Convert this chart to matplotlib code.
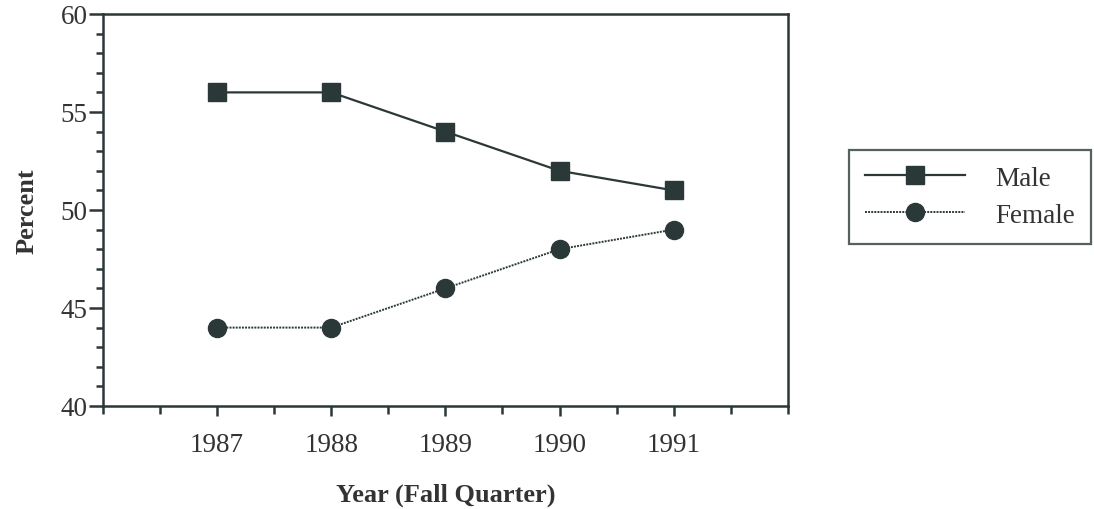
import matplotlib
matplotlib.use("Agg")
import matplotlib.pyplot as plt
from matplotlib.ticker import MultipleLocator

years = [1987, 1988, 1989, 1990, 1991]
male = [56, 56, 54, 52, 51]
female = [44, 44, 46, 48, 49]
year_labels = ["1987", "1988", "1989", "1990", "1991"]

plt.rcParams['font.family'] = ['Liberation Serif', 'DejaVu Serif']
ink = '#2b3838'

fig = plt.figure(figsize=(10.94, 5.10), dpi=100)
ax = fig.add_axes([0.0941, 0.202, 0.626, 0.7686])

ax.plot(years, male, color=ink, lw=1.6, marker='s', ms=13, mfc=ink, mec=ink, label='Male')
ax.plot(years, female, color=ink, lw=1.4, ls=(0, (1, 0.6)), marker='o', ms=13, mfc=ink, mec=ink, label='Female')

ax.set_xlim(1986, 1992)
ax.set_ylim(40, 60)
ax.set_xticks(years)
ax.set_xticklabels(year_labels)
ax.xaxis.set_minor_locator(MultipleLocator(0.5))
ax.yaxis.set_major_locator(MultipleLocator(5))
ax.yaxis.set_minor_locator(MultipleLocator(1))

for s in ax.spines.values():
    s.set_color(ink)
    s.set_linewidth(1.8)

ax.tick_params(axis='y', which='major', direction='out', length=10, width=1.8, colors=ink, labelsize=19.5, labelcolor='#333333', pad=1)
ax.tick_params(axis='y', which='minor', direction='out', length=5, width=1.8, colors=ink)
ax.tick_params(axis='x', which='major', direction='out', length=7, width=1.8, colors=ink, labelsize=19.5, labelcolor='#333333', pad=12)
ax.tick_params(axis='x', which='minor', direction='out', length=6, width=1.8, colors=ink)

ax.set_ylabel('Percent', fontsize=19, fontweight='bold', color='#333333', labelpad=16)
ax.set_xlabel('Year (Fall Quarter)', fontsize=19, fontweight='bold', color='#333333', labelpad=18)

leg = fig.legend(loc='center', bbox_to_anchor=(0.775, 0.516, 0.2228, 0.192),
                 frameon=True, fancybox=False, fontsize=19.5, handlelength=3.7,
                 handletextpad=1.1, labelspacing=0.45, borderpad=0.6, borderaxespad=0)
leg.get_frame().set_edgecolor(ink)
leg.get_frame().set_linewidth(1.6)
for t in leg.get_texts():
    t.set_color('#333333')

fig.savefig('out.png', dpi=100)
